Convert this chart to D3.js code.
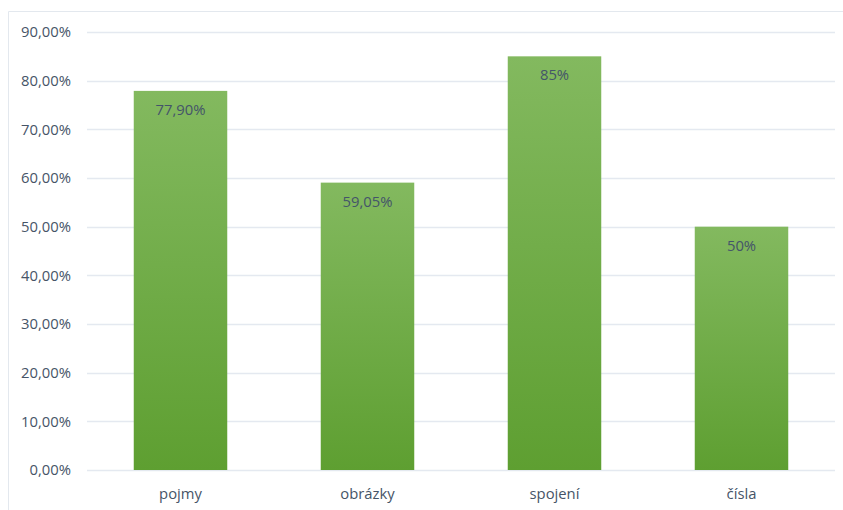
<!DOCTYPE html>
<html>
<head>
<meta charset="utf-8">
<script src="https://cdn.jsdelivr.net/npm/d3@7"></script>
<style>
  html, body { margin: 0; padding: 0; background: #fff; }
  svg { display: block; font-family: "Open Sans", "Noto Sans", sans-serif; }
</style>
</head>
<body>
<svg id="chart" width="843" height="510"></svg>
<script>
// Category names and their shares
const categories = ["pojmy", "obrázky", "spojení", "čísla"];
const values = [0.779, 0.5905, 0.85, 0.50];
const valueLabels = ["77,90%", "59,05%", "85%", "50%"];
const yTicks = [0, 0.1, 0.2, 0.3, 0.4, 0.5, 0.6, 0.7, 0.8, 0.9];

const svg = d3.select("#chart");
const W = 843, H = 510;
const margin = { left: 87, right: 8, top: 32, bottom: 40 };
const fontSize = 14.8;
const textColor = "#465467";

// Outer frame (top and left edges)
svg.append("path")
  .attr("d", `M8.5,${H} L8.5,11.5 L${W},11.5`)
  .attr("fill", "none")
  .attr("stroke", "#e3e8ee")
  .attr("stroke-width", 1);

const x = d3.scaleBand()
  .domain(categories)
  .range([margin.left, W - margin.right])
  .paddingInner(0.5)
  .paddingOuter(0.25);

const y = d3.scaleLinear()
  .domain([0, 0.9])
  .range([H - margin.bottom, margin.top]);

const fmt = v => d3.format(".2f")(v * 100).replace(".", ",") + "%";

// Gradient fill for the bars
const defs = svg.append("defs");
const grad = defs.append("linearGradient")
  .attr("id", "barGrad")
  .attr("x1", 0).attr("y1", 0).attr("x2", 0).attr("y2", 1);
grad.append("stop").attr("offset", "0%").attr("stop-color", "#83b95f");
grad.append("stop").attr("offset", "100%").attr("stop-color", "#5e9f31");

// Horizontal gridlines
svg.append("g")
  .selectAll("line")
  .data(yTicks)
  .join("line")
  .attr("x1", margin.left)
  .attr("x2", W - margin.right)
  .attr("y1", d => Math.round(y(d)) + 0.5)
  .attr("y2", d => Math.round(y(d)) + 0.5)
  .attr("stroke", "#e4e9f0")
  .attr("stroke-width", 1.5);

// Y axis labels
const yAxis = d3.axisLeft(y).tickValues(yTicks).tickFormat(fmt).tickSize(0).tickPadding(0);
const gy = svg.append("g")
  .attr("transform", `translate(71,0)`)
  .call(yAxis);
gy.select(".domain").remove();
gy.selectAll("text")
  .attr("fill", textColor)
  .attr("font-size", fontSize)
  .attr("font-family", "'Open Sans', 'Noto Sans', sans-serif");

// Bars
svg.append("g")
  .selectAll("rect")
  .data(categories)
  .join("rect")
  .attr("x", d => x(d))
  .attr("width", x.bandwidth())
  .attr("y", (d, i) => y(values[i]))
  .attr("height", (d, i) => y(0) - y(values[i]))
  .attr("fill", "url(#barGrad)");

// Value labels inside bars
svg.append("g")
  .selectAll("text")
  .data(categories)
  .join("text")
  .attr("x", d => x(d) + x.bandwidth() / 2)
  .attr("y", (d, i) => y(values[i]) + 24)
  .attr("text-anchor", "middle")
  .attr("fill", "#44546a")
  .attr("font-size", fontSize)
  .text((d, i) => valueLabels[i]);

// X axis labels
const xAxis = d3.axisBottom(x).tickSize(0).tickPadding(0);
const gx = svg.append("g")
  .attr("transform", `translate(0,${y(0) + 29})`)
  .call(xAxis);
gx.select(".domain").remove();
gx.selectAll("text")
  .attr("fill", textColor)
  .attr("font-size", fontSize)
  .attr("dy", 0)
  .attr("font-family", "'Open Sans', 'Noto Sans', sans-serif");
</script>
</body>
</html>
